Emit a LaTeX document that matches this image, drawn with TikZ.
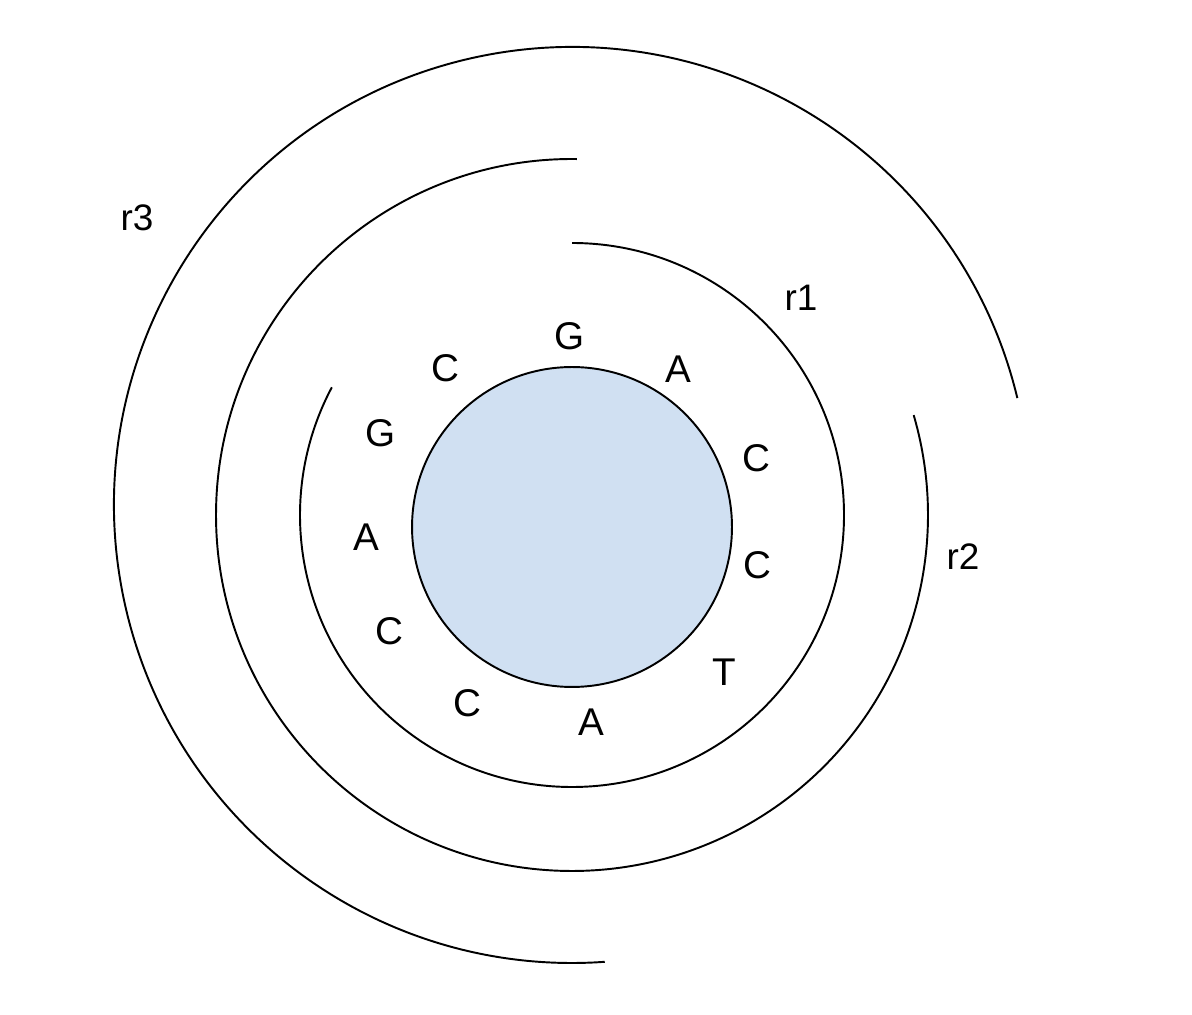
\documentclass[tikz,border=0pt]{standalone}
\usepackage{fontspec}
\setmainfont{Liberation Sans}
\usetikzlibrary{positioning,calc}
\definecolor{core}{RGB}{208,224,242}

\begin{document}
\begin{tikzpicture}[x=0.02cm,y=0.02cm,line width=1.1pt,
    base/.style={font=\fontsize{22}{26}\selectfont,inner sep=0pt},
    ringlabel/.style={font=\fontsize{21}{25}\selectfont,inner sep=0pt}]
    \fill[white] (0,0) rectangle (1192,1014);
    \useasboundingbox (0,0) rectangle (1192,1014);
    \coordinate (o) at (572,487);
    \coordinate (m) at (572,499);
    \coordinate (n) at (572,509);
    % inner circle
    \node[circle,draw,fill=core,minimum size=6.4cm,inner sep=0pt] (disk) at (o) {};
    % bases around the circle
    \foreach \l/\a/\d [count=\i] in {
      G/90.6/191, A/56.1/190, C/20.5/197, C/-11.6/189, T/-43.6/210, A/-84.4/196,
      C/-120.8/205, C/-150.3/210, A/-177.2/206, G/153.8/213, C/128.6/203}
    {
      \node[base] (b\i) at ($(o)+(\a:\d)$) {\l};
    }
    % reads
    \draw (m) ++(90:272) arc[start angle=90,end angle=-208,radius=272];
    \draw (m) ++(89.2:356) arc[start angle=89.2,end angle=376.3,radius=356];
    \draw (n) ++(13.5:458) arc[start angle=13.5,end angle=274.1,radius=458];
    \node[ringlabel] (r1) at (801,716) {r1};
    \node[ringlabel] (r2) at (963,457) {r2};
    \node[ringlabel] (r3) at (137,796) {r3};
  \end{tikzpicture}
\end{document}
